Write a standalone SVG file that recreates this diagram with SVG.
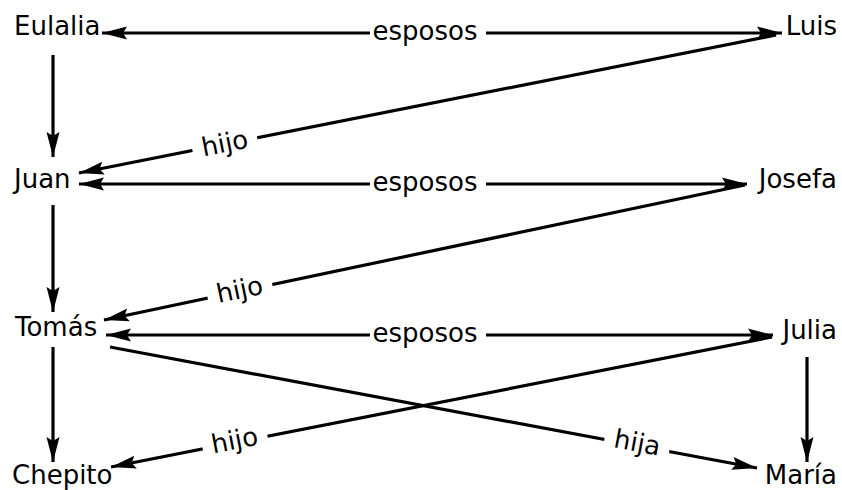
<svg xmlns="http://www.w3.org/2000/svg" width="842" height="490" viewBox="0 0 842 490">
  <defs>
    <marker id="arr" viewBox="-30 -8 30 16" refX="0" refY="0" markerWidth="30" markerHeight="16" markerUnits="userSpaceOnUse" orient="auto-start-reverse">
      <path d="M0,0 L-25,-6.5 L-21,0 L-25,6.5 Z" fill="#000"/>
    </marker>
  </defs>
  <style>
    text { font-family: "DejaVu Sans", Verdana, sans-serif; font-size: 26px; fill: #000; }
    .c { fill: none; stroke: #000; stroke-width: 3.2; }
    .bg { fill: #fff; }
    .lbl { text-anchor: middle; }
    .r { text-anchor: end; }
  </style>
  <rect width="842" height="490" fill="#fff"/>
  <g id="connectors">
    <path class="c" d="M102,33 H782" marker-start="url(#arr)" marker-end="url(#arr)"/>
    <path class="c" d="M776,35 L79,173" marker-end="url(#arr)"/>
    <path class="c" d="M53,55 V157" marker-end="url(#arr)"/>
    <path class="c" d="M79,184 H747" marker-start="url(#arr)" marker-end="url(#arr)"/>
    <path class="c" d="M745,185 L104,320" marker-end="url(#arr)"/>
    <path class="c" d="M53,205 V312" marker-end="url(#arr)"/>
    <path class="c" d="M106,335 H773" marker-start="url(#arr)" marker-end="url(#arr)"/>
    <path class="c" d="M772,337 L111,467" marker-end="url(#arr)"/>
    <path class="c" d="M110,347 L757,468" marker-end="url(#arr)"/>
    <path class="c" d="M53,347 V462" marker-end="url(#arr)"/>
    <path class="c" d="M807,357 V462" marker-end="url(#arr)"/>
    <g id="labels">
      <rect class="bg" x="370" y="18" width="116" height="30"/>
      <text class="lbl" x="425" y="40">esposos</text>
      <g transform="translate(225,145) rotate(-11.2)">
        <rect class="bg" x="-33" y="-15" width="66" height="30"/>
        <text class="lbl" x="0" y="7">hijo</text>
      </g>
      <rect class="bg" x="370" y="170" width="116" height="30"/>
      <text class="lbl" x="425" y="191">esposos</text>
      <g transform="translate(240,291.4) rotate(-11.9)">
        <rect class="bg" x="-33" y="-15" width="66" height="30"/>
        <text class="lbl" x="0" y="7">hijo</text>
      </g>
      <rect class="bg" x="370" y="321" width="116" height="30"/>
      <text class="lbl" x="425" y="342">esposos</text>
      <g transform="translate(235,442) rotate(-11.1)">
        <rect class="bg" x="-33" y="-15" width="66" height="30"/>
        <text class="lbl" x="0" y="7">hijo</text>
      </g>
      <g transform="translate(637,444.5) rotate(10.6)">
        <rect class="bg" x="-33" y="-15" width="66" height="30"/>
        <text class="lbl" x="0" y="7">hija</text>
      </g>
    </g>
  </g>
  <g id="n-eulalia"><text x="14" y="35">Eulalia</text></g>
  <g id="n-luis"><text class="r" x="837" y="35">Luis</text></g>
  <g id="n-juan"><text x="14" y="188">Juan</text></g>
  <g id="n-josefa"><text class="r" x="837" y="188">Josefa</text></g>
  <g id="n-tomas"><text x="15" y="336">Tomás</text></g>
  <g id="n-julia"><text class="r" x="837" y="339">Julia</text></g>
  <g id="n-chepito"><text x="12" y="484">Chepito</text></g>
  <g id="n-maria"><text class="r" x="837" y="484">María</text></g>
</svg>
